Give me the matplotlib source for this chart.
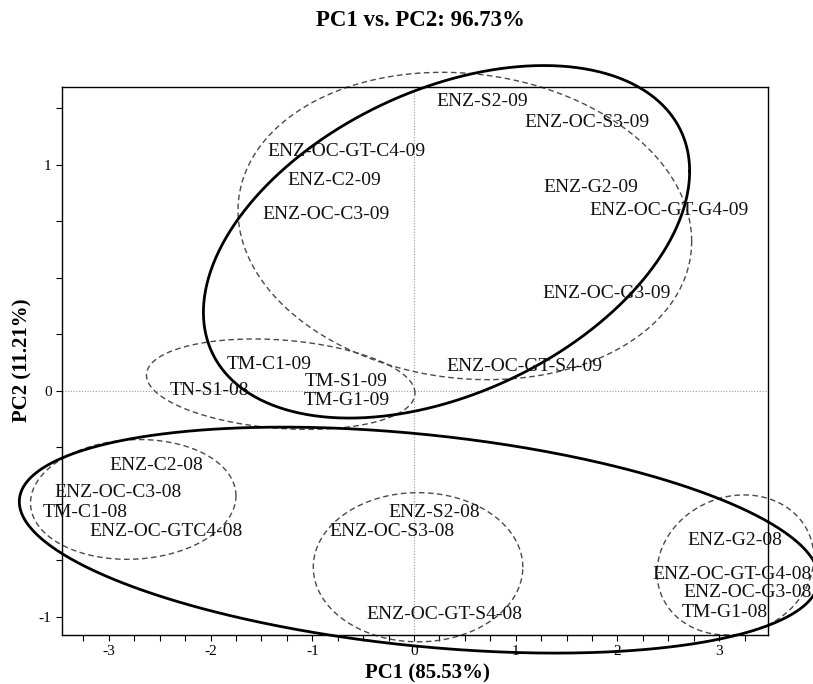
import numpy as np
import matplotlib
matplotlib.use("Agg")
import matplotlib.pyplot as plt
from matplotlib.ticker import MultipleLocator

plt.rcParams['font.family'] = ['Liberation Serif', 'DejaVu Serif']
plt.rcParams['axes.unicode_minus'] = False

# sample scores (PC1, PC2), label drawn centred on the point
labels = ["ENZ-S2-09", "ENZ-OC-S3-09", "ENZ-OC-GT-C4-09", "ENZ-C2-09", "ENZ-OC-C3-09",
          "ENZ-G2-09", "ENZ-OC-GT-G4-09", "ENZ-OC-G3-09", "ENZ-OC-GT-S4-09",
          "TM-C1-09", "TN-S1-08", "TM-S1-09", "TM-G1-09",
          "ENZ-C2-08", "ENZ-OC-C3-08", "TM-C1-08", "ENZ-OC-GTC4-08",
          "ENZ-S2-08", "ENZ-OC-S3-08", "ENZ-OC-GT-S4-08",
          "ENZ-G2-08", "ENZ-OC-GT-G4-08", "ENZ-OC-G3-08", "TM-G1-08"]
pc1 = [0.67, 1.70, -0.66, -0.78, -0.86,
       1.74, 2.51, 1.89, 1.09,
       -1.42, -2.01, -0.67, -0.66,
       -2.53, -2.91, -3.23, -2.44,
       0.20, -0.22, 0.30,
       3.15, 3.13, 3.28, 3.06]
pc2 = [1.28, 1.19, 1.06, 0.93, 0.78,
       0.90, 0.80, 0.43, 0.11,
       0.115, 0.0, 0.044, -0.044,
       -0.33, -0.45, -0.54, -0.62,
       -0.54, -0.62, -0.99,
       -0.66, -0.81, -0.89, -0.98]

# group ellipses: centre, half range in x and y, correlation-like tilt
ell_cx = [0.32, 0.50, -1.31, -2.76, 0.04, 3.16, 0.05]
ell_cy = [0.66, 0.73, 0.03, -0.48, -0.78, -0.77, -0.66]
ell_hx = [2.39, 2.23, 1.32, 1.01, 1.03, 0.77, 3.93]
ell_hy = [0.78, 0.68, 0.20, 0.265, 0.33, 0.31, 0.50]
ell_tilt = [0.40, -0.10, -0.20, 0.06, 0.0, 0.11, -0.34]
ell_solid = [True, False, False, False, False, False, True]

fig = plt.figure(figsize=(8.13, 6.84), dpi=100)
ax = fig.add_axes([0.0763, 0.0716, 0.8683, 0.8012])

ax.axhline(0, color='#999999', lw=0.8, ls=(0, (1, 1.5)), zorder=1)
ax.axvline(0, color='#999999', lw=0.8, ls=(0, (1, 1.5)), zorder=1)

t = np.linspace(0, 2 * np.pi, 500)
for cx, cy, hx, hy, c, solid in zip(ell_cx, ell_cy, ell_hx, ell_hy, ell_tilt, ell_solid):
    phi = np.arccos(c)
    ex = cx + hx * np.cos(t)
    ey = cy + hy * np.cos(t - phi)
    if solid:
        ax.plot(ex, ey, color='black', lw=2.0, clip_on=False, zorder=3)
    else:
        ax.plot(ex, ey, color='#4a4a4a', lw=1.0, ls=(0, (4, 2.5)), clip_on=False, zorder=2)

for lab, x, y in zip(labels, pc1, pc2):
    ax.text(x, y, lab, ha='center', va='center', fontsize=14, color='#111111',
            clip_on=False, zorder=4)

ax.set_xlim(-3.46, 3.48)
ax.set_ylim(-1.08, 1.345)
ax.xaxis.set_major_locator(MultipleLocator(1))
ax.xaxis.set_minor_locator(MultipleLocator(0.25))
ax.yaxis.set_major_locator(MultipleLocator(1))
ax.yaxis.set_minor_locator(MultipleLocator(0.25))
ax.tick_params(which='both', direction='out', length=4, width=0.8, labelsize=11)
ax.tick_params(top=False, right=False)
for s in ax.spines.values():
    s.set_linewidth(1.0)

fig.text(0.517, 1 - 20 / 684, "PC1 vs. PC2: 96.73%", ha='center', va='center',
         fontsize=16.5, fontweight='bold')
fig.text(427 / 813, 1 - 673 / 684, "PC1 (85.53%)", ha='center', va='center',
         fontsize=15, fontweight='bold')
fig.text(22 / 813, 1 - 360 / 684, "PC2 (11.21%)", ha='center', va='center',
         fontsize=15, fontweight='bold', rotation=90)

fig.savefig("out.png", dpi=100)
